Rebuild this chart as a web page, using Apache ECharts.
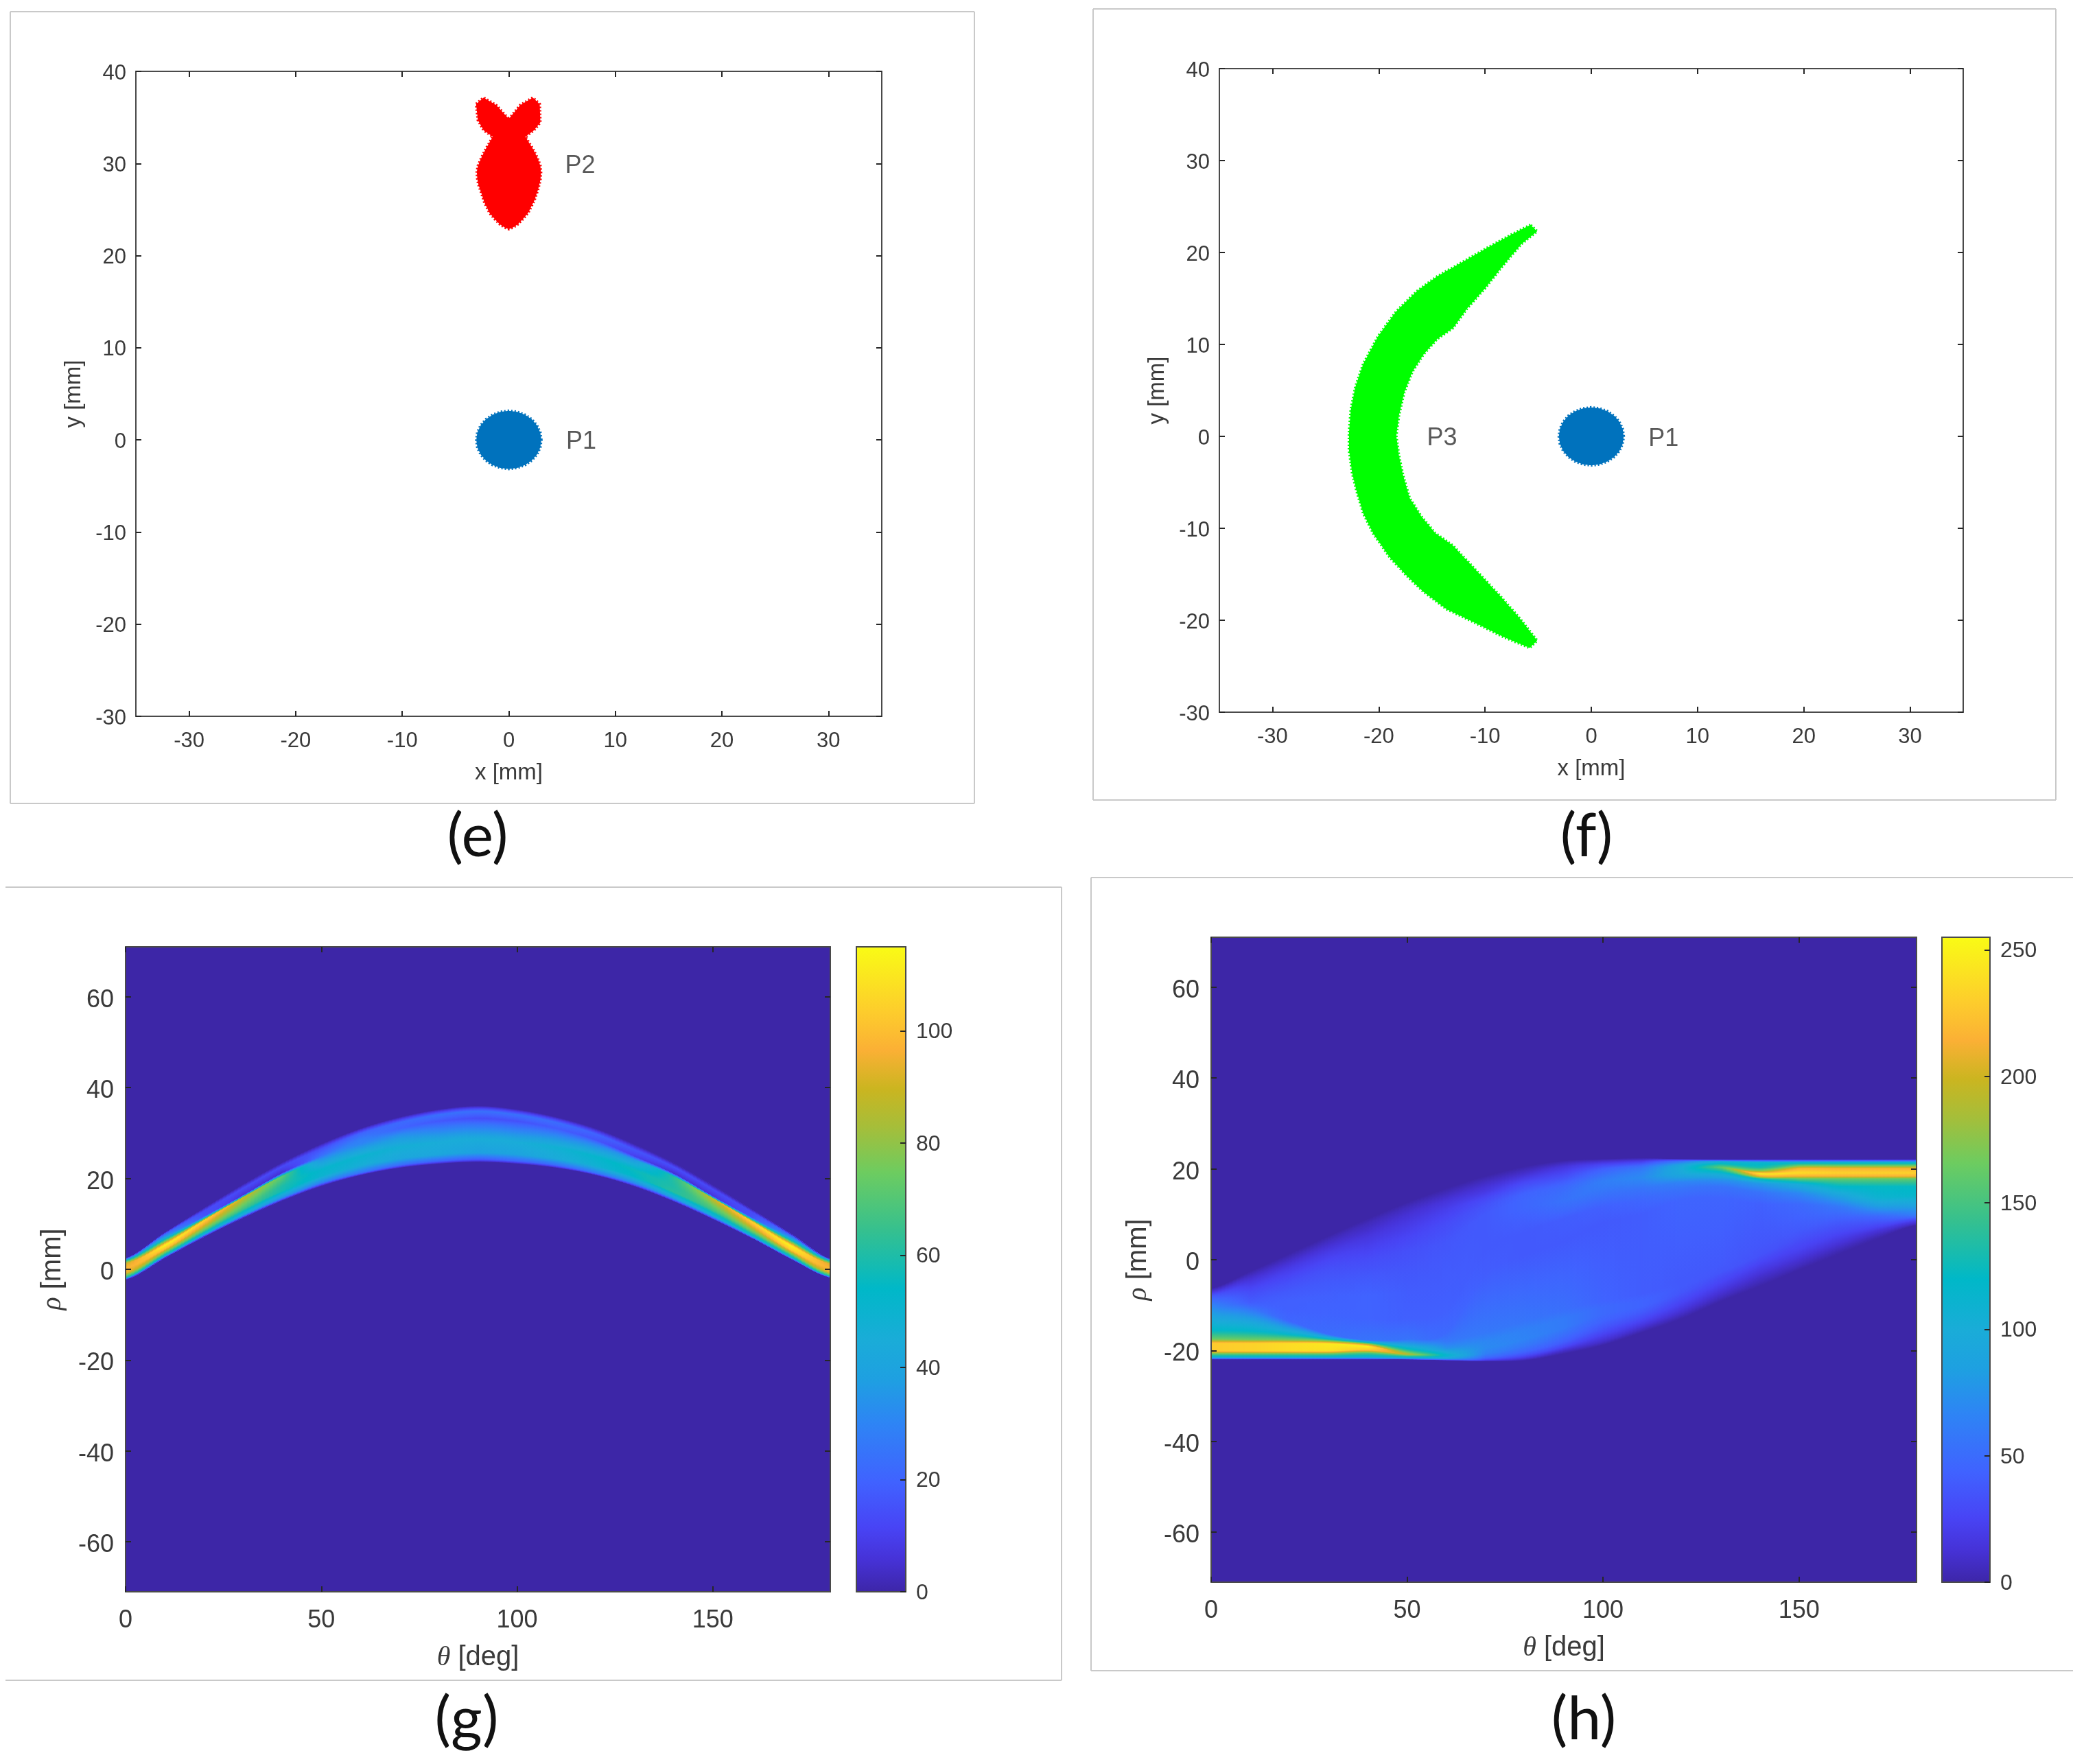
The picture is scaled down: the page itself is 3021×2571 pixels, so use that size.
<!DOCTYPE html>
<html><head><meta charset="utf-8">
<style>html,body{margin:0;padding:0;background:#fff}#c{width:3021px;height:2571px}</style>
<script src="https://cdn.jsdelivr.net/npm/echarts@6/dist/echarts.min.js"></script>
</head><body><div id="c"></div>
<script>
// ---- tick labels
const xTicksMm = [-30,-20,-10,0,10,20,30];
const yTicksMm = [-30,-20,-10,0,10,20,30,40];
const thetaTicks = [0,50,100,150];
const rhoTicks = [-60,-40,-20,0,20,40,60];
const barTicksG = [0,20,40,60,80,100];
const barTicksH = [0,50,100,150,200,250];
const barMaxG = 115, barMaxH = 255;

// ---- shapes (e) and (f), in mm
const p1Outline = [[3.05,0],[2.95,.82],[2.64,1.58],[2.16,2.23],[1.52,2.73],[.79,3.04],[0,3.15],[-.79,3.04],[-1.52,2.73],[-2.16,2.23],[-2.64,1.58],[-2.95,.82],[-3.05,0],[-2.95,-.82],[-2.64,-1.58],[-2.16,-2.23],[-1.52,-2.73],[-.79,-3.04],[0,-3.15],[.79,-3.04],[1.52,-2.73],[2.16,-2.23],[2.64,-1.58],[2.95,-.82]];
const p2Outline = [[0,34.84],[1.07,36.33],[2.25,37.15],[2.9,36.45],[2.96,34.47],[2.36,33.6],[1.55,32.9],[2.25,31.6],[2.7,30.6],[2.96,29.75],[3.02,29],[2.96,28.2],[2.75,27.2],[2.4,26],[1.82,24.66],[1.35,24],[.86,23.42],[.4,23.05],[0,22.88],[-.4,23.05],[-.86,23.42],[-1.35,24],[-1.82,24.66],[-2.3,25.8],[-2.58,26.8],[-2.85,27.7],[-2.96,28.38],[-3,29.1],[-2.9,29.75],[-2.55,30.7],[-2.15,31.6],[-1.5,32.9],[-2.36,33.6],[-2.9,34.7],[-3.07,36.45],[-2.36,37.15],[-1.18,36.33]];
const p3Outline = [[-5.72,23],[-7.44,22],[-9.8,20.5],[-11.9,19.1],[-14.5,17.4],[-16.4,15.8],[-18.35,13.6],[-20.06,10.9],[-21.45,7.9],[-22.2,5.4],[-22.63,2.9],[-22.8,.4],[-22.8,-1.5],[-22.5,-4],[-22.1,-5.9],[-21.45,-8.4],[-20.5,-10.6],[-19,-13.1],[-17.5,-15],[-15.8,-16.9],[-13.6,-18.8],[-10.9,-20.3],[-8.3,-21.8],[-5.8,-23],[-5.1,-22.2],[-6.8,-19.7],[-8.7,-17.2],[-10.9,-14.5],[-13,-11.9],[-14.7,-10.5],[-16,-8.7],[-17.1,-6.7],[-17.7,-4.3],[-18.1,-2.1],[-18.35,.06],[-18.1,2.3],[-17.6,4.8],[-16.85,7],[-15.8,8.9],[-14.5,10.6],[-13,11.8],[-11.7,13.9],[-10,16.1],[-8.3,18.6],[-6.6,20.9],[-5.1,22.3]];
const labelsE = [[6.7,29.7,'P2'],[6.8,-.2,'P1']];
const labelsF = [[-14.05,-.2,'P3'],[6.8,-.3,'P1']];

// ---- panel (g): profile read at each theta column, top to bottom
const thetaCols = [0,10,20,30,40,50,60,70,80,90,100,110,120,130,140,150,160,170,180];
const rhoG = [
[2.5,2.2,1.9,1.3,.3,-.8,-1.8,-2.3],
[8.1,7.7,7,5.3,4.5,3.6,2.9,2.5],
[13.5,12.8,11.6,10.7,9.5,8.5,7.6,7.1],
[18.7,17.8,16.3,15.8,14.2,13.2,11.9,11.3],
[23.5,22.6,21.2,20.5,18.3,17.2,15.7,15.1],
[27.6,26.5,25,24.2,21.9,20.5,19,18.3],
[31,29.9,28.6,27.6,24.8,22.9,21.2,20.7],
[33.5,32.3,31,29.6,26.8,24.4,22.9,22.3],
[35.2,34,32.6,31.1,28,25.3,23.8,23.2],
[36,34.8,33.2,32,28.6,25.6,24.2,23.6],
[35.2,34,32.6,31.1,28,25.3,23.8,23.2],
[33.5,32.3,31,29.6,26.8,24.4,22.9,22.3],
[31,29.8,28.5,27.5,24.8,22.8,21.2,20.7],
[27.5,26.3,24.9,24.1,21.8,20.4,18.9,18.2],
[23.4,22.5,21.1,20.4,18.2,17,15.6,14.9],
[18.5,17.6,16.1,15.6,14,13,11.7,11],
[13.2,12.6,11.4,10.5,9.3,8.3,7.3,6.8],
[7.8,7.4,6.8,5.2,4.3,3.4,2.6,2.2],
[2.3,2.1,1.8,1.2,.3,-.7,-1.5,-1.9]];
const valG = [
[0,30,60,90,97,95,60,0],
[0,22,38,113,102,72,45,0],
[0,13,16,106,90,70,42,0],
[0,13,6,90,75,66,40,0],
[0,13,5,72,60,58,32,0],
[0,15,24,34,52,50,28,0],
[0,20,28,30,50,46,24,0],
[0,22,20,33,47,42,22,0],
[0,24,17,27,45,42,20,0],
[0,24,14,24,45,38,18,0],
[0,24,15,26,45,40,20,0],
[0,23,18,30,48,44,22,0],
[0,20,16,30,52,48,25,0],
[0,16,10,36,56,54,30,0],
[0,14,5,62,60,62,36,0],
[0,13,6,90,74,66,42,0],
[0,13,15,106,90,72,46,0],
[0,22,38,113,105,75,46,0],
[0,30,60,92,97,94,60,0]];

// ---- panel (h): profile read at each theta column, top to bottom
const rhoH = [
[-6.3,-7.2,-8,-8.5,-9,-9.5,-10,-10.5,-11,-12,-15.5,-17.5,-18.4,-20.1,-20.7,-21.4,-21.8,-22],
[-2.6,-3.6,-5,-6,-7,-8,-9,-9.5,-10,-11,-15.7,-17.6,-18.4,-20.1,-20.7,-21.4,-21.8,-22],
[1.3,.3,-1,-2,-3.5,-5,-7,-9,-11,-13.5,-16.3,-17.7,-18.4,-20.1,-20.7,-21.4,-21.8,-22],
[5.2,4.2,3,1.5,0,-2,-5,-8,-12,-16.4,-17.4,-18,-18.5,-20.1,-20.7,-21.4,-21.8,-22],
[9,8,6.5,5,3,0,-4,-8,-13,-17.7,-18.2,-18.6,-19.1,-19.9,-20.6,-21.4,-21.8,-22],
[12.6,11.5,10,8,5,2,-2,-7,-13,-17.5,-18.8,-19.8,-20.4,-20.8,-21.1,-21.5,-21.9,-22],
[15.7,14.5,13,11,8,4,0,-5,-11,-16,-18,-19.5,-20.3,-21,-21.4,-21.8,-22,-22.2],
[18.4,17,15,13.5,12,10,8,5,2,-3,-16,-18,-19.5,-20.8,-21.5,-21.9,-22.2,-22.4],
[20.5,19,17,15.5,14.5,13,11.5,9,6,1,-13.5,-15.5,-17.5,-19,-20.2,-21,-21.7,-22.2],
[21.8,20.5,18.5,17,16,14.5,13,11,9,4,-11,-13,-15,-16.8,-18.2,-19.2,-20,-20.7],
[22.2,21,20,19,18,17.2,16,14.6,11.5,8,-9,-10.5,-12,-13.5,-15,-16.5,-18,-18.8],
[22.4,21.6,20.6,20.1,19.2,18.1,17,15.6,13.2,10,-7.5,-9,-10.3,-11.6,-12.8,-14,-15.2,-16],
[22.2,21.7,21,20.6,20,19,18.2,17,15.6,13.2,-4.5,-6,-7.3,-8.5,-9.7,-10.9,-12.1,-13],
[22.1,21.6,21,20.6,20.3,19.6,18.9,17.6,16.1,13.6,-1,-2.8,-4,-5,-6.1,-7.2,-8.4,-9.2],
[22.1,21.4,20.3,19.6,18.95,18.3,17.8,16.8,14.8,12.2,3,1,-.3,-1.4,-2.6,-3.7,-5,-5.8],
[22.1,21.4,20.7,20.1,19.1,18.4,17.8,16.6,14.6,12.2,6.5,4.8,3.4,2.2,1,0,-1.4,-2.2],
[22.1,21.4,20.7,20.1,19.1,18.4,17.8,16.1,14.1,11.7,9,7.4,6,5,4,3,2,1.2],
[22.1,21.4,20.7,20.1,19.1,18.4,17.8,16.1,13.6,11,9.6,8.4,7.6,7,6.4,5.8,5.2,4.6],
[22.1,21.4,20.7,20.1,19.1,18.4,17.8,16.1,14.1,11.7,9.8,9.3,9,8.7,8.4,8.1,7.8,7.6]];
const valH = [
[0,18,38,45,52,58,65,70,76,85,118,165,228,228,165,110,50,0],
[0,8,18,24,30,34,38,40,45,58,118,165,232,232,165,110,50,0],
[0,6,14,20,26,32,38,42,42,46,112,170,238,238,165,110,50,0],
[0,6,12,20,26,32,38,42,44,50,115,185,245,240,165,110,50,0],
[0,5,10,16,22,30,38,44,44,55,120,190,250,225,150,105,50,0],
[0,6,12,18,26,32,36,40,42,55,90,130,170,195,160,110,50,0],
[0,6,14,22,30,36,38,40,42,48,58,75,95,115,105,85,50,0],
[0,8,18,28,34,38,38,38,38,40,58,68,70,62,48,34,16,0],
[0,10,28,38,44,46,46,42,38,38,56,64,66,58,46,32,14,0],
[0,15,30,42,48,52,54,48,40,38,52,60,60,50,40,26,10,0],
[0,25,42,50,58,62,60,55,42,38,44,48,48,44,36,24,10,0],
[0,22,50,58,65,70,64,55,46,40,40,44,44,38,30,20,8,0],
[0,55,85,95,98,95,85,65,55,45,38,38,36,30,24,16,7,0],
[0,100,130,150,158,130,105,75,55,45,38,36,30,26,20,13,6,0],
[0,110,130,170,245,205,125,80,54,42,36,34,28,22,16,10,4,0],
[0,110,165,215,238,215,160,100,68,48,38,33,28,24,18,12,5,0],
[0,110,165,215,232,215,160,118,88,58,42,34,28,22,16,10,4,0],
[0,110,165,215,232,215,160,122,108,72,48,36,28,22,14,9,4,0],
[0,110,165,215,232,215,160,122,115,85,60,46,34,26,18,12,6,0]];

// ---- colour scale
const parulaPos = [0,.05,.1,.17,.26,.33,.39,.47,.56,.65,.72,.78,.84,.9,1];
const parulaRGB = [[61,38,168],[70,50,215],[72,68,245],[64,98,255],[46,132,245],[30,160,225],[26,172,216],[0,184,200],[53,192,143],[109,204,96],[165,190,58],[203,181,32],[251,176,53],[253,205,44],[249,251,21]];
function parula(t){
  t=Math.max(0,Math.min(1,t));
  let i=0; while(i<parulaPos.length-2 && t>parulaPos[i+1]) i++;
  const f=(t-parulaPos[i])/(parulaPos[i+1]-parulaPos[i]);
  const c=parulaRGB[i].map((a,k)=>Math.round(a+(parulaRGB[i+1][k]-a)*f));
  return 'rgb('+c.join(',')+')';
}

const FONT='Liberation Sans', TXT='#3a3a3a', LINE='#4a4a4a', TICK='#262626';
function axis(kind,grid,range,ticks,o){
  o=o||{};
  const a={type:'value',gridIndex:grid,min:range[0],max:range[1],position:o.position,z:6,
    axisLine:{show:true,onZero:false,lineStyle:{color:LINE,width:2}},
    axisTick:{show:true,inside:true,length:8,customValues:ticks,lineStyle:{color:TICK,width:2}},
    splitLine:{show:false},minorTick:{show:false},
    axisLabel:{show:!!o.fs,customValues:ticks,margin:o.margin||14,fontSize:o.fs||10,fontFamily:FONT,color:TXT,hideOverlap:false,showMinLabel:true,showMaxLabel:true}};
  if(o.drop){a.axisLabel.verticalAlign='top';a.axisLabel.lineHeight=o.drop;}
  if(o.name){a.name=o.name;a.nameLocation='middle';a.nameGap=o.gap;
    a.nameTextStyle={fontFamily:FONT,fontSize:o.nfs,color:TXT,rich:{i:{fontFamily:'Liberation Serif',fontStyle:'italic',fontSize:o.nfs,color:TXT}}};}
  return a;
}
function polySeries(outline,color,xi,yi){
  return {type:'custom',xAxisIndex:xi,yAxisIndex:yi,data:outline,silent:true,clip:true,encode:{x:0,y:1},
    renderItem:(p,api)=>{
      if(p.dataIndex!==0) return null;
      const pts=outline.map(q=>api.coord(q));
      return {type:'group',children:[
        {type:'polygon',shape:{points:pts},style:{fill:color,stroke:null}},
        {type:'polygon',shape:{points:pts},style:{fill:'none',stroke:color,lineWidth:4,lineDash:[2,3]}}
      ]};
    }};
}
function labelSeries(items,xi,yi,fs){
  return {type:'scatter',xAxisIndex:xi,yAxisIndex:yi,symbolSize:0,silent:true,data:items,encode:{x:0,y:1},
    label:{show:true,position:'inside',formatter:p=>p.value[2],fontFamily:FONT,fontSize:fs,color:'#2e2e2e'}};
}
// one data row per pair of neighbouring read columns; the renderer paints it with the colour scale
function heatSeries(rhoTable,valTable,vmax,xi,yi){
  const rows=thetaCols.slice(0,-1).map((t,i)=>[t,thetaCols[i+1],i]);
  const n=rhoTable.length;
  return {type:'custom',xAxisIndex:xi,yAxisIndex:yi,silent:true,clip:true,data:rows,encode:{x:[0,1]},
    renderItem:(p,api)=>{
      const i=p.dataIndex,t0=thetaCols[i],t1=thetaCols[i+1];
      const x0=Math.round(api.coord([t0,0])[0]),x1=Math.round(api.coord([t1,0])[0]);
      const R0=rhoTable[Math.max(0,i-1)],R1=rhoTable[i],R2=rhoTable[i+1],R3=rhoTable[Math.min(n-1,i+2)];
      const kids=[],step=2;
      for(let x=x0;x<x1;x+=step){
        const f=(x+step/2-x0)/(x1-x0),f2=f*f,f3=f2*f;
        const r=R1.map((b,k)=>{const a=R0[k],c=R2[k],d=R3[k];
          return .5*(2*b+(c-a)*f+(2*a-5*b+4*c-d)*f2+(3*b-a-3*c+d)*f3);});
        for(let k=1;k<r.length;k++) if(r[k]>r[k-1]) r[k]=r[k-1];
        const v=valTable[i].map((a,k)=>a+(valTable[i+1][k]-a)*f);
        const yTop=api.coord([t0,r[0]])[1],yBot=api.coord([t0,r[r.length-1]])[1];
        const span=r[0]-r[r.length-1],stops=[];
        for(let k=0;k<r.length-1;k++){
          const m=Math.ceil(Math.abs(v[k+1]-v[k])/vmax*14)+1;
          for(let j=0;j<m;j++){
            const g=j/m;
            stops.push({offset:Math.min(1,Math.max(0,(r[0]-(r[k]+(r[k+1]-r[k])*g))/span)),color:parula((v[k]+(v[k+1]-v[k])*g)/vmax)});
          }
        }
        stops.push({offset:1,color:parula(v[v.length-1]/vmax)});
        kids.push({type:'rect',shape:{x:x,y:yTop,width:Math.min(step+1,x1-x+(i<thetaCols.length-2?1:0)),height:yBot-yTop},
          style:{fill:{type:'linear',x:0,y:0,x2:0,y2:1,colorStops:stops},stroke:null}});
      }
      return {type:'group',children:kids};
    }};
}
function barSeries(vmax,xi,yi){
  return {type:'custom',xAxisIndex:xi,yAxisIndex:yi,silent:true,data:[[0,1,vmax]],encode:{y:2},
    renderItem:(p,api)=>{
      const a=api.coord([0,vmax]),b=api.coord([1,0]);
      const stops=[];for(let k=parulaPos.length-1;k>=0;k--)stops.push({offset:1-parulaPos[k],color:parula(parulaPos[k])});
      return {type:'rect',shape:{x:a[0],y:a[1],width:b[0]-a[0],height:b[1]-a[1]},
        style:{fill:{type:'linear',x:0,y:0,x2:0,y2:1,colorStops:stops},stroke:null}};
    }};
}

const grids=[
 {left:198,top:104,width:1087,height:940},
 {left:1777,top:100,width:1084,height:938},
 {left:183,top:1380,width:1027,height:940,show:true,borderWidth:0,backgroundColor:'#3d26a7'},
 {left:1765,top:1366,width:1028,height:940,show:true,borderWidth:0,backgroundColor:'#3d26a7'},
 {left:1248,top:1380,width:72,height:940},
 {left:2830,top:1366,width:70,height:940}
];
const XR=[-35,35],YR=[-30,40],TR=[0,180],RR=[-71,71];
const xAxes=[
 axis('x',0,XR,xTicksMm,{position:'bottom',fs:31,margin:21,name:'x [mm]',gap:66,nfs:33}),
 axis('x',0,XR,xTicksMm,{position:'top'}),
 axis('x',1,XR,xTicksMm,{position:'bottom',fs:31,margin:21,name:'x [mm]',gap:66,nfs:33}),
 axis('x',1,XR,xTicksMm,{position:'top'}),
 axis('x',2,TR,thetaTicks,{position:'bottom',fs:36,margin:24,name:'{i|θ} [deg]',gap:76,nfs:40}),
 axis('x',2,TR,thetaTicks,{position:'top'}),
 axis('x',3,TR,thetaTicks,{position:'bottom',fs:36,margin:24,name:'{i|θ} [deg]',gap:76,nfs:40}),
 axis('x',3,TR,thetaTicks,{position:'top'}),
 axis('x',4,[0,1],[],{position:'bottom'}),axis('x',4,[0,1],[],{position:'top'}),
 axis('x',5,[0,1],[],{position:'bottom'}),axis('x',5,[0,1],[],{position:'top'})
];
const yAxes=[
 axis('y',0,YR,yTicksMm,{position:'left',fs:31,margin:14,drop:6,name:'y [mm]',gap:74,nfs:33}),
 axis('y',0,YR,yTicksMm,{position:'right'}),
 axis('y',1,YR,yTicksMm,{position:'left',fs:31,margin:14,drop:6,name:'y [mm]',gap:74,nfs:33}),
 axis('y',1,YR,yTicksMm,{position:'right'}),
 axis('y',2,RR,rhoTicks,{position:'left',fs:36,margin:17,drop:10,name:'{i|ρ} [mm]',gap:86,nfs:40}),
 axis('y',2,RR,rhoTicks,{position:'right'}),
 axis('y',3,RR,rhoTicks,{position:'left',fs:36,margin:17,drop:10,name:'{i|ρ} [mm]',gap:86,nfs:40}),
 axis('y',3,RR,rhoTicks,{position:'right'}),
 axis('y',4,[0,barMaxG],[],{position:'left'}),
 axis('y',4,[0,barMaxG],barTicksG,{position:'right',fs:32,margin:15,drop:4}),
 axis('y',5,[0,barMaxH],[],{position:'left'}),
 axis('y',5,[0,barMaxH],barTicksH,{position:'right',fs:32,margin:15,drop:4})
];
const frameStyle={stroke:'#c9c9c9',lineWidth:2};
const ln=(x1,y1,x2,y2)=>({type:'line',silent:true,shape:{x1,y1,x2,y2},style:frameStyle});
const cap=(x,y,t)=>({type:'text',silent:true,x:x,y:y,style:{text:t,font:'88px Lato',fill:'#111',textAlign:'center',textVerticalAlign:'middle'}});
const chart=echarts.init(document.getElementById('c'),null,{renderer:'canvas',width:3021,height:2571});
chart.setOption({
  animation:false,backgroundColor:'#fff',grid:grids,xAxis:xAxes,yAxis:yAxes,
  graphic:{elements:[
    ln(15,17,1420,17),ln(1420,17,1420,1171),ln(1420,1171,15,1171),ln(15,1171,15,17),
    ln(1593,13,2996,13),ln(2996,13,2996,1166),ln(2996,1166,1593,1166),ln(1593,1166,1593,13),
    ln(8,1293,1547,1293),ln(1547,1293,1547,2449),ln(1547,2449,8,2449),
    ln(1590,1279,3021,1279),ln(1590,1279,1590,2435),ln(1590,2435,3021,2435),
    cap(696,1220,'(e)'),cap(2312,1220,'(f)'),cap(680,2507,'(g)'),cap(2308,2507,'(h)')
  ]},
  series:[
    polySeries(p1Outline,'#0072bd',0,0),polySeries(p2Outline,'#ff0000',0,0),labelSeries(labelsE,0,0,36),
    polySeries(p3Outline,'#00ff00',2,2),polySeries(p1Outline,'#0072bd',2,2),labelSeries(labelsF,2,2,36),
    heatSeries(rhoG,valG,barMaxG,4,4),
    heatSeries(rhoH,valH,barMaxH,6,6),
    barSeries(barMaxG,8,8),barSeries(barMaxH,10,10)
  ]
});
</script></body></html>
